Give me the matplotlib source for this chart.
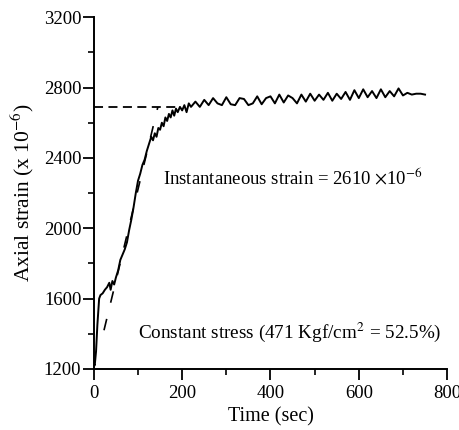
import numpy as np
import matplotlib.pyplot as plt
from matplotlib.ticker import MultipleLocator

# ----------------------------
# Datos
# ----------------------------
time = [0, 2, 5, 8, 12, 15, 20, 25, 30, 35, 38, 42, 46, 50, 55, 60, 65, 70,
        75, 80, 85, 90, 95, 100, 105, 110, 115, 120, 125, 130, 134, 138, 142,
        146, 150, 154, 158, 162, 166, 170, 174, 178, 182, 186, 190, 195, 200,
        205, 210, 215, 220, 230, 240, 250, 260, 270, 280, 290, 300, 310, 320,
        330, 340, 350, 360, 370, 380, 390, 400, 410, 420, 430, 440, 450, 460,
        470, 480, 490, 500, 510, 520, 530, 540, 550, 560, 570, 580, 590, 600,
        610, 620, 630, 640, 650, 660, 670, 680, 690, 700, 710, 720, 730, 740,
        750]
strain = [1230, 1220, 1300, 1450, 1600, 1620, 1630, 1650, 1665, 1690, 1650,
          1700, 1680, 1720, 1760, 1820, 1850, 1880, 1920, 1990, 2050, 2120,
          2200, 2270, 2310, 2360, 2390, 2440, 2480, 2520, 2500, 2540, 2520,
          2570, 2560, 2600, 2580, 2630, 2610, 2650, 2630, 2670, 2640, 2680,
          2660, 2690, 2670, 2700, 2660, 2710, 2690, 2720, 2690, 2730, 2700,
          2740, 2710, 2700, 2745, 2705, 2700, 2740, 2735, 2700, 2710, 2750,
          2705, 2740, 2750, 2710, 2760, 2715, 2755, 2740, 2710, 2760, 2720,
          2765, 2725, 2760, 2730, 2770, 2725, 2765, 2735, 2775, 2730, 2785,
          2740, 2790, 2745, 2780, 2740, 2790, 2745, 2780, 2750, 2795, 2755,
          2770, 2760, 2765, 2765, 2760]

# lineas auxiliares (deformacion instantanea y tangente)
plateau_t = [0, 188]
plateau_s = [2690, 2690]
tangent_t = [23, 145]
tangent_s = [1420, 2690]

plt.rcParams['font.family'] = ['Liberation Serif', 'DejaVu Serif']
plt.rcParams['mathtext.fontset'] = 'stix'

fig = plt.figure(figsize=(4.6, 4.3), dpi=100)
ax = fig.add_axes([0.204, 0.142, 0.768, 0.818])

ax.plot(time, strain, color='black', lw=1.4)
ax.plot(plateau_t, plateau_s, color='black', lw=1.3, ls=(0, (5, 3)))
ax.plot(tangent_t, tangent_s, color='black', lw=1.2, ls=(0, (7, 10)))

ax.set_xlim(0, 800)
ax.set_ylim(1200, 3200)
ax.xaxis.set_major_locator(MultipleLocator(200))
ax.xaxis.set_minor_locator(MultipleLocator(100))
ax.yaxis.set_major_locator(MultipleLocator(400))
ax.yaxis.set_minor_locator(MultipleLocator(200))

for s in ['top', 'right']:
    ax.spines[s].set_visible(False)
ax.spines['left'].set_linewidth(1.4)
ax.spines['bottom'].set_linewidth(1.4)

ax.tick_params(which='major', length=8, width=1.3, labelsize=13.5, direction='out')
ax.tick_params(which='minor', length=4, width=1.2, direction='out')
ax.tick_params(axis='y', pad=1)

ax.set_xlabel('Time (sec)', fontsize=14.5, labelpad=4)
ax.set_ylabel('Axial strain (x 10$^{-6}$)', fontsize=15.5, labelpad=6)

ax.text(157, 2290, 'Instantaneous strain = 2610 $\\times$10$^{-6}$', fontsize=13.5,
        va='center', ha='left')
ax.text(100, 1410, 'Constant stress (471 Kgf/cm$^{2}$ = 52.5%)', fontsize=13.8,
        va='center', ha='left')

fig.savefig('out.png', dpi=100)
